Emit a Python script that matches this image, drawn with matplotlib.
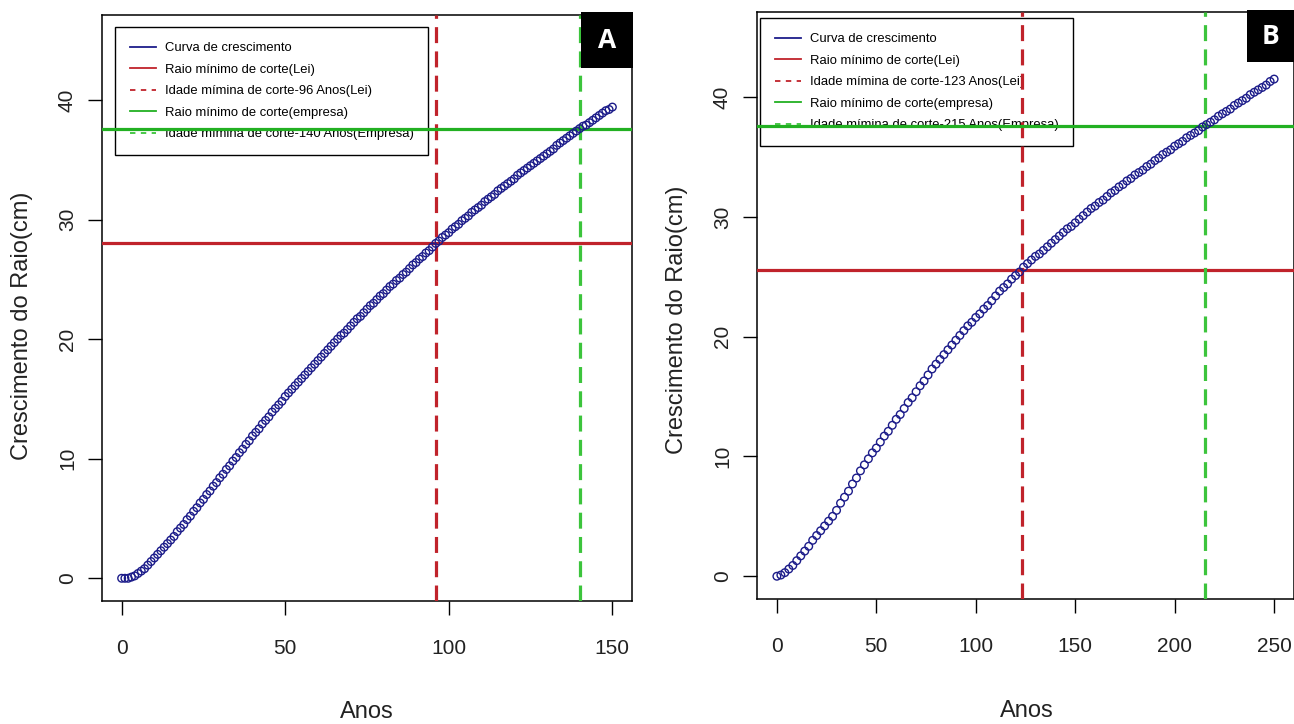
import matplotlib
matplotlib.use("Agg")
import matplotlib.pyplot as plt
from matplotlib import font_manager as fm
from matplotlib.lines import Line2D
from matplotlib.patches import Rectangle

nomes = {f.name for f in fm.fontManager.ttflist}
FN = 'Liberation Sans Narrow' if 'Liberation Sans Narrow' in nomes else 'Liberation Sans'
plt.rcParams['font.family'] = [FN, 'DejaVu Sans']

AZUL = "#1c1c8a"; VERM = "#c0232b"; VERDE = "#22b022"; VERDE2 = "#3cc43c"

# ---- dados painel A (anual, 0-150 anos) ----
anos_a = list(range(0, 151))
raio_a = [0.0, 0.0, 0.0, 0.1, 0.2, 0.4, 0.6, 0.8, 1.1, 1.4,
          1.7, 2.0, 2.3, 2.6, 2.9, 3.2, 3.5, 3.9, 4.2, 4.5,
          4.9, 5.2, 5.6, 5.9, 6.3, 6.6, 7.0, 7.3, 7.7, 8.0,
          8.4, 8.7, 9.1, 9.4, 9.8, 10.1, 10.5, 10.8, 11.2, 11.5,
          11.9, 12.2, 12.5, 12.9, 13.2, 13.5, 13.9, 14.2, 14.5, 14.8,
          15.2, 15.5, 15.8, 16.1, 16.4, 16.7, 17.0, 17.3, 17.6, 17.9,
          18.2, 18.5, 18.8, 19.1, 19.4, 19.7, 20.0, 20.3, 20.5, 20.8,
          21.1, 21.4, 21.7, 21.9, 22.2, 22.5, 22.8, 23.0, 23.3, 23.6,
          23.8, 24.1, 24.4, 24.6, 24.9, 25.1, 25.4, 25.6, 25.9, 26.2,
          26.4, 26.7, 26.9, 27.2, 27.4, 27.7, 28.0, 28.2, 28.5, 28.7,
          28.9, 29.2, 29.4, 29.6, 29.9, 30.1, 30.3, 30.6, 30.8, 31.0,
          31.2, 31.5, 31.7, 31.9, 32.1, 32.4, 32.6, 32.8, 33.0, 33.2,
          33.4, 33.7, 33.9, 34.1, 34.3, 34.5, 34.7, 34.9, 35.1, 35.3,
          35.5, 35.7, 35.9, 36.2, 36.4, 36.6, 36.8, 37.0, 37.2, 37.4,
          37.6, 37.8, 37.9, 38.1, 38.3, 38.5, 38.7, 38.9, 39.1, 39.2,
          39.4]
lei_raio_a = 28.0; lei_idade_a = 96
emp_raio_a = 37.6; emp_idade_a = 140

# ---- dados painel B (a cada 2 anos, 0-250 anos) ----
anos_b = list(range(0, 251, 2))
raio_b = [0.0, 0.1, 0.3, 0.6, 0.9, 1.3, 1.7, 2.1, 2.5, 3.0,
          3.4, 3.8, 4.2, 4.6, 5.0, 5.5, 6.1, 6.6, 7.1, 7.7,
          8.2, 8.8, 9.3, 9.8, 10.3, 10.7, 11.2, 11.7, 12.1, 12.6,
          13.1, 13.5, 14.0, 14.5, 14.9, 15.4, 15.9, 16.3, 16.8, 17.3,
          17.7, 18.1, 18.5, 18.9, 19.3, 19.7, 20.1, 20.5, 20.9, 21.2,
          21.6, 21.9, 22.3, 22.6, 23.0, 23.4, 23.8, 24.1, 24.4, 24.8,
          25.1, 25.4, 25.8, 26.1, 26.4, 26.7, 26.9, 27.2, 27.5, 27.8,
          28.1, 28.4, 28.7, 29.0, 29.2, 29.5, 29.8, 30.1, 30.4, 30.7,
          30.9, 31.2, 31.4, 31.7, 32.0, 32.2, 32.5, 32.7, 33.0, 33.2,
          33.5, 33.7, 33.9, 34.2, 34.4, 34.7, 34.9, 35.2, 35.4, 35.6,
          35.9, 36.1, 36.3, 36.6, 36.8, 37.0, 37.2, 37.5, 37.7, 37.9,
          38.1, 38.4, 38.6, 38.8, 39.0, 39.3, 39.5, 39.7, 39.9, 40.2,
          40.4, 40.6, 40.8, 41.0, 41.3, 41.5]
lei_raio_b = 25.6; lei_idade_b = 123
emp_raio_b = 37.6; emp_idade_b = 215

W, H = 1294, 724
fig = plt.figure(figsize=(W/100, H/100), dpi=100)

def px(l, t, r, b):
    return [l/W, 1-b/H, (r-l)/W, (b-t)/H]

def painel(ax, anos, raio, lr, li, er, ei, xlim, xt, leg_xy, ylx, yly, xlx):
    ax.scatter(anos, raio, s=30, facecolors='none', edgecolors=AZUL, linewidths=1.0, zorder=4)
    ax.axhline(lr, color=VERM, lw=2.3, zorder=3)
    ax.axvline(li, color=VERM, lw=2.3, ls=(0, (5, 2.6)), zorder=3)
    ax.axhline(er, color=VERDE, lw=2.3, zorder=3)
    ax.axvline(ei, color=VERDE2, lw=2.3, ls=(0, (5, 2.6)), zorder=3)
    ax.set_xlim(*xlim); ax.set_ylim(-1.9, 47.1)
    ax.set_xticks(xt); ax.set_yticks([0, 10, 20, 30, 40])
    ax.tick_params(axis='both', length=10, width=1, color='black', labelsize=15, labelcolor='#222222')
    ax.tick_params(axis='x', pad=17)
    ax.tick_params(axis='y', pad=8, labelrotation=90)
    for lab in ax.get_yticklabels():
        lab.set_va('center')
    for s in ax.spines.values():
        s.set_linewidth(1.1); s.set_color('black')
    ax.set_xlabel("Anos", fontsize=17, color='#222222')
    ax.xaxis.set_label_coords(xlx, -0.19); ax.xaxis.label.set_va('center')
    ax.set_ylabel("Crescimento do Raio(cm)", fontsize=17, color='#222222')
    ax.yaxis.set_label_coords(ylx, yly); ax.yaxis.label.set_va('center')
    hs = [Line2D([], [], color=AZUL, lw=1.3),
          Line2D([], [], color=VERM, lw=1.3),
          Line2D([], [], color=VERM, lw=1.3, ls=(0, (3, 3))),
          Line2D([], [], color=VERDE, lw=1.3),
          Line2D([], [], color=VERDE2, lw=1.3, ls=(0, (3, 3)))]
    labs = ["Curva de crescimento", "Raio mínimo de corte(Lei)",
            f"Idade mímina de corte-{li} Anos(Lei)", "Raio mínimo de corte(empresa)",
            f"Idade mímina de corte-{ei} Anos(Empresa)"]
    leg = ax.legend(hs, labs, loc='upper left', bbox_to_anchor=leg_xy, borderaxespad=0,
                    fontsize=9.4, handlelength=2.0, handletextpad=0.65, borderpad=1.15,
                    labelspacing=0.72, fancybox=False, framealpha=1, edgecolor='black')
    leg.get_frame().set_linewidth(1.0)
    leg.set_zorder(1)

axA = fig.add_axes(px(102, 15, 632, 601))
painel(axA, anos_a, raio_a, lei_raio_a, lei_idade_a, emp_raio_a, emp_idade_a,
       (-6, 156), [0, 50, 100, 150], (0.0245, 0.9795), -0.151, 0.47, 0.5)

axB = fig.add_axes(px(757, 12, 1294, 599))
painel(axB, anos_b, raio_b, lei_raio_b, lei_idade_b, emp_raio_b, emp_idade_b,
       (-10, 260), [0, 50, 100, 150, 200, 250], (0.0056, 0.9898), -0.149, 0.475, 0.503)

# etiquetas A / B
for (l, t, r, b), let in [((581, 12, 633, 68), "A"), ((1247, 10, 1294, 62), "B")]:
    fig.patches.append(Rectangle((l/W, 1-b/H), (r-l)/W, (b-t)/H, transform=fig.transFigure,
                                 facecolor='black', edgecolor='none', zorder=10))
    fig.text((l+r)/2/W, 1-(t+b)/2/H, let, color='white', fontsize=19, fontweight='bold',
             family=['Open Sans', 'DejaVu Sans'], ha='center', va='center', zorder=11)

fig.savefig("out.png", dpi=100)
